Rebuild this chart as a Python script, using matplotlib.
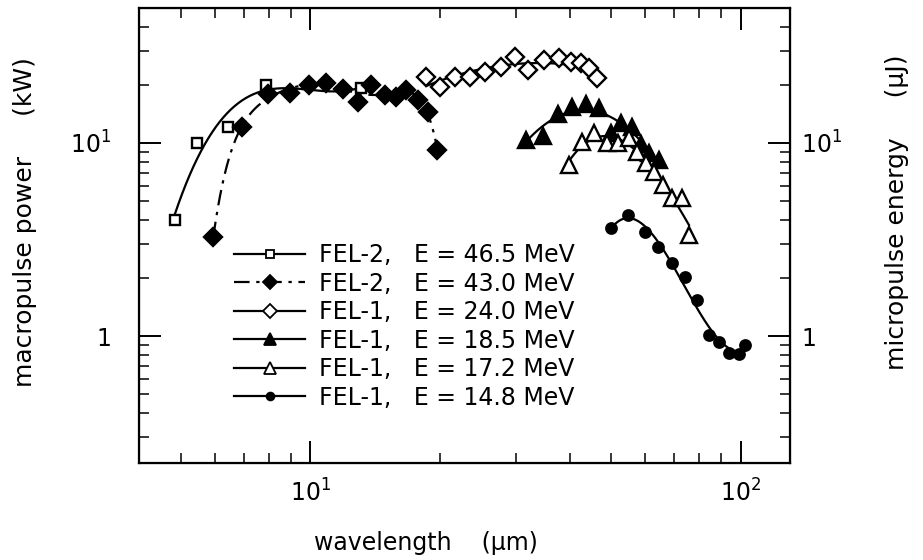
import numpy as np
import matplotlib
matplotlib.use("Agg")
import matplotlib.pyplot as plt
from matplotlib.ticker import FixedLocator, FixedFormatter, NullFormatter, LogLocator

plt.rcParams['font.family'] = ['DejaVu Sans']
plt.rcParams['mathtext.fontset'] = 'dejavusans'

# FEL-2, 46.5 MeV (open squares)
wl_a = [4.85, 5.46, 6.44, 7.9, 13.1]
p_a = [4.0, 10.0, 12.1, 20.0, 19.3]
# FEL-2, 43.0 MeV (filled diamonds)
wl_b = [5.95, 6.95, 7.99, 8.99, 9.95, 10.9, 11.9, 12.9, 13.8, 14.9, 15.8, 16.7, 17.8, 18.8, 19.7]
p_b = [3.26, 12.1, 17.9, 18.2, 20.0, 20.5, 19.0, 16.3, 20.0, 17.7, 17.3, 18.8, 16.7, 14.5, 9.2]
# FEL-1, 24.0 MeV (open diamonds)
wl_c = [18.6, 19.95, 21.7, 23.5, 25.5, 27.7, 29.8, 32.1, 34.8, 37.7, 40.3, 42.5, 44.3, 46.3]
p_c = [22.0, 19.5, 22.0, 22.0, 23.3, 24.8, 27.9, 23.9, 26.9, 27.5, 26.3, 26.0, 24.5, 21.7]
# FEL-1, 18.5 MeV (filled triangles)
wl_d = [31.6, 34.6, 37.5, 40.5, 43.6, 46.7, 49.9, 52.6, 55.8, 58.5, 61.1, 64.5]
p_d = [10.4, 10.9, 14.1, 15.4, 15.9, 15.2, 11.3, 12.7, 12.1, 9.9, 8.87, 8.16]
# FEL-1, 17.2 MeV (open triangles)
wl_e = [39.8, 42.7, 45.5, 48.8, 51.8, 54.9, 57.3, 60.1, 62.8, 65.9, 69.1, 72.9, 75.7]
p_e = [7.69, 10.1, 11.3, 10.0, 10.0, 10.6, 8.98, 7.88, 7.07, 6.06, 5.19, 5.19, 3.34]
# FEL-1, 14.8 MeV (filled circles)
wl_f = [49.9, 54.6, 59.8, 64.1, 69.1, 74.1, 79.0, 84.3, 88.9, 93.8, 98.9, 102.2]
p_f = [3.63, 4.24, 3.46, 2.89, 2.39, 2.02, 1.54, 1.01, 0.93, 0.82, 0.81, 0.90]

labels = ["FEL-2,   E = 46.5 MeV", "FEL-2,   E = 43.0 MeV", "FEL-1,   E = 24.0 MeV",
          "FEL-1,   E = 18.5 MeV", "FEL-1,   E = 17.2 MeV", "FEL-1,   E = 14.8 MeV"]

fig = plt.figure(figsize=(9.23, 5.6), dpi=100)
ax = fig.add_axes([0.1506, 0.173, 0.7054, 0.813])


def fitline(x, y, deg):
    # smooth guide curve, fitted in log-log space
    lx, ly = np.log10(x), np.log10(y)
    c = np.polyfit(lx, ly, deg)
    xs = np.linspace(lx.min(), lx.max(), 300)
    return 10 ** xs, 10 ** np.polyval(c, xs)


dashdot = (0, (7, 3, 1.5, 3))
series = [
    (wl_a, p_a, 's', 'white', '-', 3, 7.5),
    (wl_b, p_b, 'D', 'black', dashdot, 6, 9.5),
    (wl_c, p_c, 'D', 'white', '-', 2, 9),
    (wl_d, p_d, '^', 'black', '-', 2, 11),
    (wl_e, p_e, '^', 'white', '-', 3, 11),
    (wl_f, p_f, 'o', 'black', '-', 3, 7.5),
]

for (x, y, m, fc, ls, deg, ms), lab in zip(series, labels):
    x = np.array(x)
    y = np.array(y)
    xs, ys = fitline(x, y, deg)
    ax.plot(xs, ys, color='black', ls=ls, lw=1.6)
    ax.plot(x, y, ls='none', marker=m, mfc=fc, mec='black', mew=1.7, ms=ms)
    # legend handle
    ax.plot([], [], color='black', ls=ls, lw=1.6, marker=m, mfc=fc, mec='black',
            mew=1.3, ms=ms * 0.75, label=lab)

ax.set_xscale('log')
ax.set_yscale('log')
ax.set_xlim(4, 130)
ax.set_ylim(0.22, 50)

ax.xaxis.set_major_locator(FixedLocator([10, 100]))
ax.xaxis.set_major_formatter(FixedFormatter(['10$^1$', '10$^2$']))
ax.xaxis.set_minor_locator(LogLocator(base=10, subs=np.arange(2, 10)))
ax.xaxis.set_minor_formatter(NullFormatter())
ax.yaxis.set_major_locator(FixedLocator([1, 10]))
ax.yaxis.set_major_formatter(FixedFormatter(['1', '10$^1$']))
ax.yaxis.set_minor_locator(LogLocator(base=10, subs=np.arange(2, 10)))
ax.yaxis.set_minor_formatter(NullFormatter())

ax.tick_params(which='both', direction='in', top=True, right=True, labelsize=17)
ax.tick_params(axis='y', pad=20)
ax.tick_params(axis='x', pad=12)
ax.tick_params(which='major', length=16, width=1.4)
ax.tick_params(which='minor', length=7, width=1.1)
for s in ax.spines.values():
    s.set_linewidth(1.6)

ax2 = ax.twinx()
ax2.set_yscale('log')
ax2.set_ylim(ax.get_ylim())
ax2.yaxis.set_major_locator(FixedLocator([1, 10]))
ax2.yaxis.set_major_formatter(FixedFormatter(['1', '10$^1$']))
ax2.yaxis.set_minor_locator(LogLocator(base=10, subs=np.arange(2, 10)))
ax2.yaxis.set_minor_formatter(NullFormatter())
ax2.tick_params(which='both', direction='in', labelsize=17, pad=8)
ax2.tick_params(which='major', length=16, width=1.4)
ax2.tick_params(which='minor', length=7, width=1.1)

ax.set_xlabel('wavelength    (μm)', fontsize=17)
ax.xaxis.set_label_coords(0.44, -0.15)
ax.set_ylabel('macropulse power     (kW)', fontsize=18)
ax.yaxis.set_label_coords(-0.157, 0.53)
ax2.set_ylabel('micropulse energy     (μJ)', fontsize=18)
ax2.yaxis.set_label_coords(1.146, 0.55)

ax.legend(loc='lower left', bbox_to_anchor=(0.132, 0.097), frameon=False, fontsize=17,
          handlelength=3.0, labelspacing=0.19, handletextpad=0.6, borderaxespad=0)

fig.savefig('out.png', dpi=100)
